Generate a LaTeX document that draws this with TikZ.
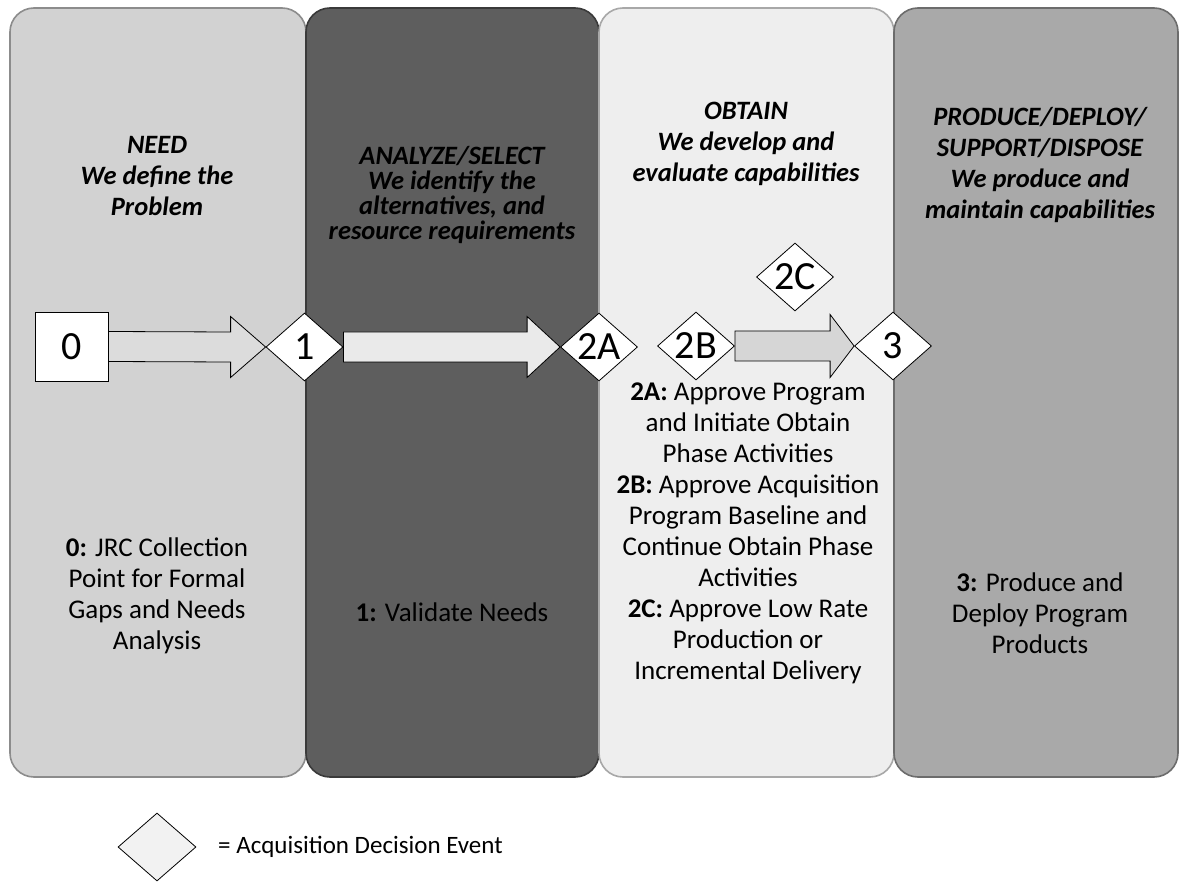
\documentclass[tikz,border=0pt]{standalone}
\usepackage{fontspec}
\setmainfont{Carlito}
\usetikzlibrary{shapes.geometric,calc}
\definecolor{colA}{HTML}{D2D2D2}
\definecolor{colB}{HTML}{5E5E5E}
\definecolor{colC}{HTML}{EEEEEE}
\definecolor{colD}{HTML}{A9A9A9}
\definecolor{bdA}{HTML}{8C8C8C}
\definecolor{bdB}{HTML}{3A3A3A}
\definecolor{bdC}{HTML}{A8A8A8}
\definecolor{bdD}{HTML}{6C6C6C}
\definecolor{arrA}{HTML}{DCDCDC}
\definecolor{arrB}{HTML}{EAEAEA}
\definecolor{arrC}{HTML}{D6D6D6}
\definecolor{legfill}{HTML}{F2F2F2}
\pgfdeclarelayer{collayer}
\pgfdeclarelayer{arrowlayer}
\pgfsetlayers{collayer,arrowlayer,main}
\newcommand\tightlines{\lineskiplimit=-20pt\relax}
\begin{document}
\begin{tikzpicture}[x=1pt,y=-1pt,
  phase/.style={rounded corners=24pt, line width=1.6pt},
  dia/.style={diamond, draw=black, line width=0.8pt, fill=white,
    minimum width=77pt, minimum height=68pt, inner sep=0pt},
  dtext/.style={font=\fontsize{40}{42}\selectfont, inner sep=0pt,
    text height=25.5pt, text depth=0pt},
  startbox/.style={rectangle, draw=black, line width=0.8pt, fill=white,
    minimum width=73pt, minimum height=69pt, inner sep=0pt,
    font=\fontsize{40}{42}\selectfont},
  barrow/.style={draw=black, line width=0.8pt, line join=miter},
  title/.style={align=center, font=\bfseries\itshape\fontsize{26.5}{31}\selectfont\tightlines},
  titletight/.style={align=center, font=\bfseries\itshape\fontsize{26.5}{25}\selectfont\tightlines},
  body/.style={align=center, font=\fontsize{27}{31}\selectfont\tightlines},
  legtext/.style={anchor=west, font=\fontsize{25}{30}\selectfont, inner sep=0pt}
]
\useasboundingbox (0,0) rectangle (1183,882);

% phase columns
\begin{pgfonlayer}{collayer}
\fill[white] (0,0) rectangle (1183,882);
\draw[phase, fill=colA, draw=bdA] (10,8) rectangle (306,777);
\draw[phase, fill=colB, draw=bdB] (306,8) rectangle (599,777);
\draw[phase, fill=colC, draw=bdC] (599,8) rectangle (894,777);
\draw[phase, fill=colD, draw=bdD] (894,8) rectangle (1178,777);
\end{pgfonlayer}

% titles
\node[title] (tNeed) at (157,176) {NEED\\We define the\\Problem};
\node[titletight] (tAnalyze) at (452,195) {ANALYZE/SELECT\\We identify the\\alternatives, and\\resource requirements};
\node[title] (tObtain) at (746,144) {OBTAIN\\We develop and\\evaluate capabilities};
\node[title] (tProduce) at (1040,165) {PRODUCE/DEPLOY/\\SUPPORT/DISPOSE\\We produce and\\maintain capabilities};

% start box and decision diamonds
\node[startbox] (n0) at (71.5,346.5) {0};
\node[dia, label={[dtext]center:1}] (d1) at (304.5,347) {};
\node[dia, label={[dtext]center:2A}] (d2A) at (599,347) {};
\node[dia, label={[dtext]center:2B}] (d2B) at (696,346) {};
\node[dia, label={[dtext]center:2C}] (d2C) at (795,277) {};
\node[dia, label={[dtext]center:3}] (d3) at (893,346) {};

% block arrows
\begin{pgfonlayer}{arrowlayer}
\draw[barrow, fill=arrA]
  ($(n0.east)+(0,-15)$) -- ($(d1.west)+(-35,-15)$) -- ($(d1.west)+(-35,-30.5)$)
  -- (d1.west) -- ($(d1.west)+(-35,30.5)$) -- ($(d1.west)+(-35,15)$)
  -- ($(n0.east)+(0,15)$) -- cycle;
\draw[barrow, fill=arrB]
  ($(d1.east)+(0,-15)$) -- ($(d2A.west)+(-33,-15)$) -- ($(d2A.west)+(-33,-30.5)$)
  -- (d2A.west) -- ($(d2A.west)+(-33,30.5)$) -- ($(d2A.west)+(-33,15)$)
  -- ($(d1.east)+(0,15)$) -- cycle;
\draw[barrow, fill=arrC]
  ($(d2B.east)+(0,-15)$) -- ($(d3.west)+(-24,-15)$) -- ($(d3.west)+(-24,-31.5)$)
  -- (d3.west) -- ($(d3.west)+(-24,31.5)$) -- ($(d3.west)+(-24,15)$)
  -- ($(d2B.east)+(0,15)$) -- cycle;
\end{pgfonlayer}

% descriptions
\node[body] (b0) at (157,596) {\textbf{0:} JRC Collection\\Point for Formal\\Gaps and Needs\\Analysis};
\node[body] (b1) at (452,612) {\textbf{1:} Validate Needs};
\node[body] (b2) at (748,533) {\textbf{2A:} Approve Program\\and Initiate Obtain\\Phase Activities\\\textbf{2B:} Approve Acquisition\\Program Baseline and\\Continue Obtain Phase\\Activities\\\textbf{2C:} Approve Low Rate\\Production or\\Incremental Delivery};
\node[body] (b3) at (1040,613) {\textbf{3:} Produce and\\Deploy Program\\Products};

% legend
\node[dia, fill=legfill, minimum width=78pt, minimum height=68pt] (leg) at (157,847) {};
\node[legtext] (legt) at (218,847) {= Acquisition Decision Event};
\end{tikzpicture}
\end{document}
